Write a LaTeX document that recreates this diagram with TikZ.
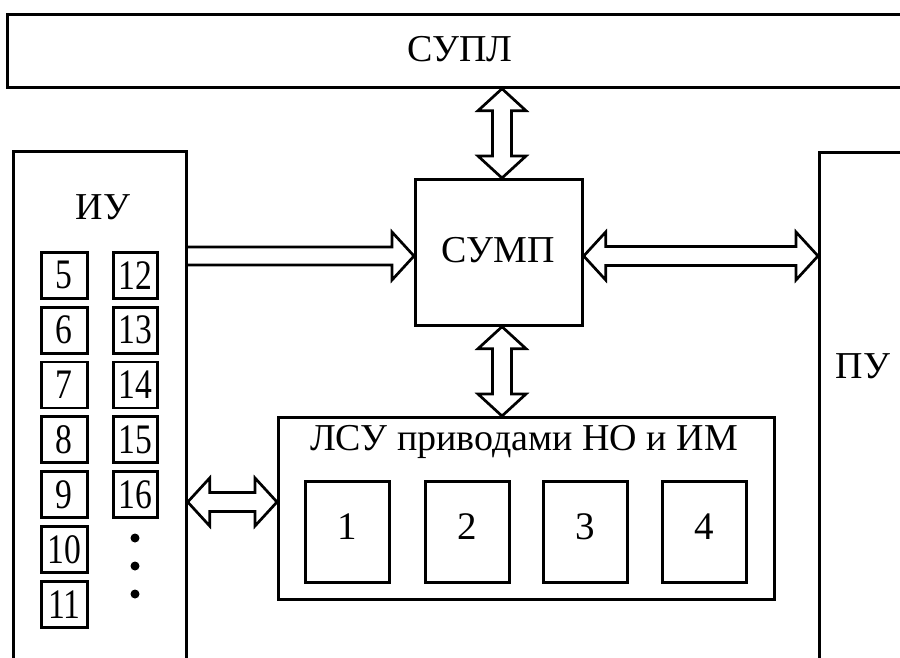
\documentclass[tikz,border=0pt]{standalone}
\usepackage{fontspec}
\setmainfont{Liberation Serif}
\usetikzlibrary{calc}
\tikzset{
  ln/.style={line width=2.7pt, line join=miter},
  blk/.style={ln, draw, rectangle, inner sep=0pt, anchor=north west},
  lbl/.style={inner sep=0pt, font=\fontsize{38}{40}\selectfont},
  sbox/.style={blk, minimum width=46pt, minimum height=46pt, font=\fontsize{42}{44}\selectfont},
  nbox/.style={blk, minimum width=84pt, minimum height=101pt, text depth=10pt, font=\fontsize{39}{41}\selectfont},
  dot/.style={circle, fill, inner sep=0pt, minimum size=9pt}
}
% double horizontal arrow between coordinates #1 (left tip) and #2 (right tip)
\newcommand\hdarrow[2]{%
  \draw[ln] (#1) -- ($(#1)+(22,-24)$) -- ($(#1)+(22,-9.5)$) -- ($(#2)+(-22,-9.5)$)
    -- ($(#2)+(-22,-24)$) -- (#2) -- ($(#2)+(-22,24)$) -- ($(#2)+(-22,9.5)$)
    -- ($(#1)+(22,9.5)$) -- ($(#1)+(22,24)$) -- cycle;}
% double vertical arrow between #1 (top tip) and #2 (bottom tip)
\newcommand\vdarrow[2]{%
  \draw[ln] (#1) -- ($(#1)+(24,22)$) -- ($(#1)+(9.5,22)$) -- ($(#2)+(9.5,-22)$)
    -- ($(#2)+(24,-22)$) -- (#2) -- ($(#2)+(-24,-22)$) -- ($(#2)+(-9.5,-22)$)
    -- ($(#1)+(-9.5,22)$) -- ($(#1)+(-24,22)$) -- cycle;}
\begin{document}
\begin{tikzpicture}[x=1pt,y=-1pt]
\clip (0,0) rectangle (900,657);
\fill[white] (0,0) rectangle (900,657);

% blocks
\node[blk, minimum width=960pt, minimum height=73pt] (supl) at (6,13) {};
\node[lbl] (suplt) at (460,49) {СУПЛ};

\node[blk, minimum width=173pt, minimum height=600pt] (iu) at (12,150) {};
\node[lbl] (iut) at (103,207) {ИУ};

\node[blk, minimum width=150pt, minimum height=600pt] (pu) at (818,151) {};
\node[lbl] (put) at (863,366) {ПУ};

\node[blk, minimum width=167pt, minimum height=146pt] (sump) at (414,178) {};
\node[lbl] (sumpt) at (498,250) {СУМП};

\node[blk, minimum width=496pt, minimum height=182pt] (lsu) at (277,416) {};
\node[lbl] (lsut) at (524,442) {ЛСУ приводами НО и ИМ};

\node[nbox] (b1) at (304,480) {1};
\node[nbox] (b2) at (424,480) {2};
\node[nbox] (b3) at (542,480) {3};
\node[nbox] (b4) at (661,480) {4};

% small boxes in ИУ
\foreach \n [count=\i from 0] in {5,6,7,8,9,10,11}
  \node[sbox] (s\n) at (40,{251+54.8*\i}) {\scalebox{0.8}[1]{\n}};
\foreach \n [count=\i from 0] in {12,13,14,15,16}
  \node[sbox, minimum width=44pt] (s\n) at (112,{251+54.8*\i}) {\scalebox{0.8}[1]{\n}};
\node[dot] (d1) at (135,538) {};
\node[dot] (d2) at (135,566) {};
\node[dot] (d3) at (135,594) {};

% connectors
\coordinate (a1) at (supl.south -| 502,0);
\coordinate (a2) at (sump.north -| 502,0);
\vdarrow{a1}{a2}

\coordinate (c1) at (sump.south -| 502,0);
\coordinate (c2) at (lsu.north -| 502,0);
\vdarrow{c1}{c2}

\coordinate (e1) at (sump.east |- 0,256);
\coordinate (e2) at (pu.west |- 0,256);
\hdarrow{e1}{e2}

\coordinate (f1) at (iu.east |- 0,502);
\coordinate (f2) at (lsu.west |- 0,502);
\hdarrow{f1}{f2}

\coordinate (g1) at (iu.east |- 0,256);
\coordinate (g2) at (sump.west |- 0,256);
\draw[ln] ($(g1)+(0,-9)$) -- ($(g2)+(-22,-9)$) -- ($(g2)+(-22,-24)$) -- (g2)
  -- ($(g2)+(-22,24)$) -- ($(g2)+(-22,9)$) -- ($(g1)+(0,9)$);
\end{tikzpicture}
\end{document}
